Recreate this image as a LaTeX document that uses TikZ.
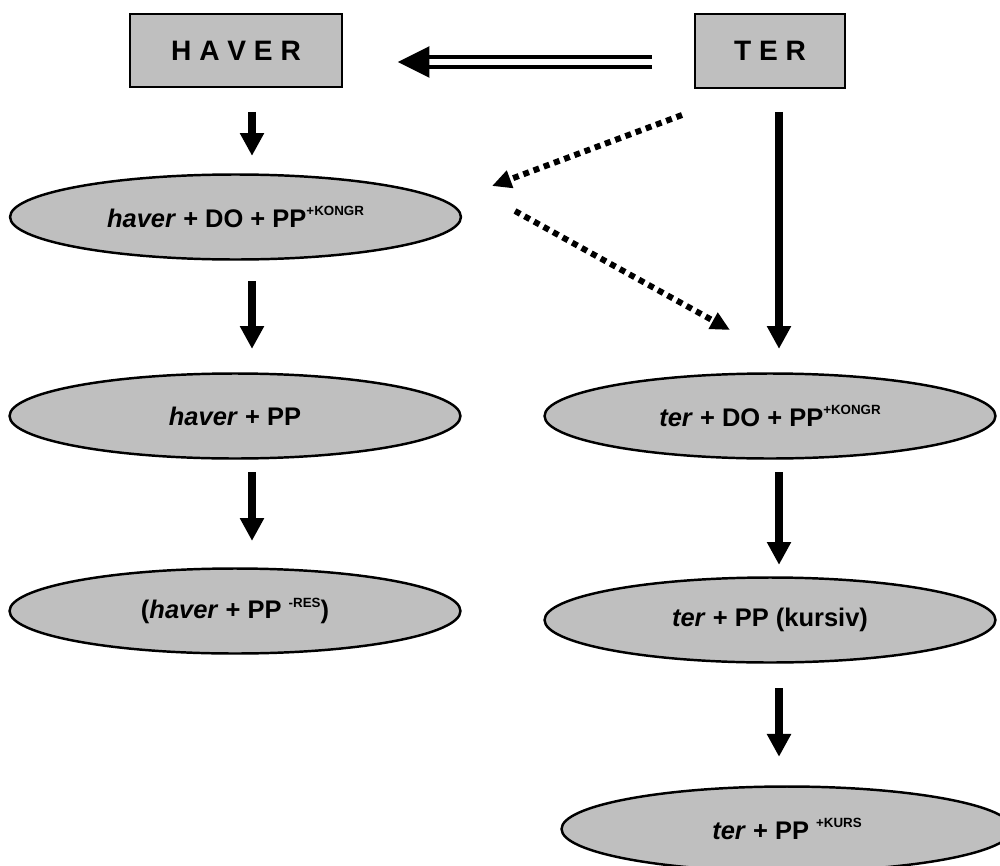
\documentclass[tikz,border=0pt]{standalone}
\usepackage{fontspec}
\setmainfont{Liberation Sans}
\usetikzlibrary{arrows.meta}
\usetikzlibrary{shapes.geometric}
\colorlet{mygray}{black!25}
\newcommand{\sups}[1]{\raisebox{6.5pt}{\fontsize{7.6}{9}\selectfont #1}}
\tikzset{
  box/.style={thick,draw=black,line width=1.2pt,fill=mygray,inner sep=0,font=\fontsize{16}{19}\selectfont\bfseries},
  oval/.style={ellipse,draw=black,line width=1.4pt,fill=mygray,minimum width=9.02cm,minimum height=1.7cm,inner sep=0,
    font=\fontsize{14.5}{17}\selectfont\bfseries},
  connect arrow/.style={-{Triangle[length=13pt,width=13pt]},line width=4.2pt},
  dotted arrow/.style={-{Triangle[length=11pt,width=10pt]},line width=3.4pt,dash pattern=on 3.4pt off 2.8pt},
  double arrow/.style={-{Triangle[length=18pt,width=17.5pt]},double=white,double distance=3.4pt,line width=2.1pt}
}

\begin{document}
\begin{tikzpicture}[x=0.02cm,y=-0.02cm]
    \useasboundingbox (0,0) rectangle (1000,865);
    \node[box,minimum width=4.24cm,minimum height=1.46cm] (haver) at (236,50.5) {H A V E R};
    \node[box,minimum width=3cm,minimum height=1.48cm] (ter) at (770,51) {T E R};
    \node[oval] (haverdo) at (235.5,217) {\textit{haver} + DO + PP\sups{+KONGR}};
    \node[oval] (haverpp) at (235,416) {\textit{haver} + PP};
    \node[oval] (haverres) at (235,611) {(\textit{haver} + PP \sups{-RES})};
    \node[oval] (terdo) at (770,416) {\textit{ter} + DO + PP\sups{+KONGR}};
    \node[oval] (terpp) at (770,620) {\textit{ter} + PP (kursiv)};
    \node[oval] (terkurs) at (787,829) {\textit{ter} + PP \sups{+KURS}};
    % columns of the arrows
    \coordinate (lx) at (252,0);
    \coordinate (rx) at (779,0);
    \coordinate (dy) at (0,62);
    \draw[double arrow,shorten <=23.8pt,shorten >=31.2pt] (ter.west |- dy) -- (haver.east |- dy);
    \draw[connect arrow,shorten <=13.6pt,shorten >=9.9pt] (haver.south -| lx) -- (haverdo.north -| lx);
    \draw[connect arrow,shorten <=11.6pt,shorten >=13.3pt] (haverdo.south -| lx) -- (haverpp.north -| lx);
    \draw[connect arrow,shorten <=7.1pt,shorten >=15pt] (haverpp.south -| lx) -- (haverres.north -| lx);
    \draw[connect arrow,shorten <=13pt,shorten >=13.3pt] (ter.south -| rx) -- (terdo.north -| rx);
    \draw[connect arrow,shorten <=7.1pt,shorten >=6.5pt] (terdo.south -| rx) -- (terpp.north -| rx);
    \draw[connect arrow,shorten <=13.9pt,shorten >=16.2pt] (terpp.south -| rx) -- (terkurs.north -| rx);
    % dotted ones
    \coordinate (d1a) at (682,115);
    \coordinate (d1b) at (492,186);
    \coordinate (d2a) at (515,211);
    \coordinate (d2b) at (730,330);
    \draw[dotted arrow] (d1a) -- (d1b);
    \draw[dotted arrow] (d2a) -- (d2b);
\end{tikzpicture}
\end{document}
